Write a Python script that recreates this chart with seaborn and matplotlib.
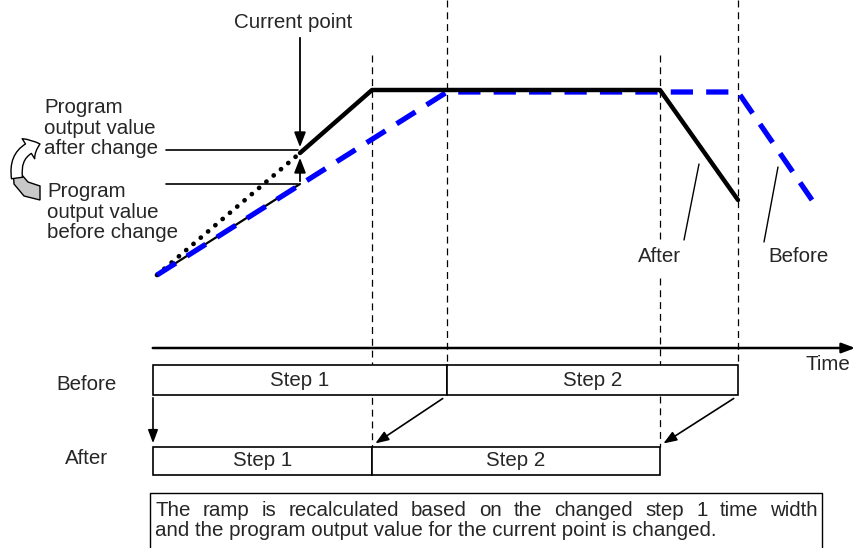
import matplotlib
matplotlib.use("Agg")
import matplotlib.pyplot as plt
import seaborn as sns
import pandas as pd
from matplotlib.patches import Rectangle, FancyArrowPatch, Polygon

sns.set_style("white")
plt.rcParams['font.family'] = ['Liberation Sans', 'DejaVu Sans']
plt.rcParams['lines.scale_dashes'] = False

# profile points (pixel-like units of the diagram)
after_x = [300, 372, 660, 738]
after_y = [153, 90, 90, 200]
before_x = [157, 447, 738, 812]
before_y = [275, 92, 92, 200]
old_ramp_x = [157, 300]
old_ramp_y = [275, 184]
new_ramp_x = [157, 300]
new_ramp_y = [275, 153]

# time boundaries of the steps
before_edges = [153, 447, 738]
after_edges = [153, 372, 660]
step_labels = ["Step 1", "Step 2"]
note_lines = ["The ramp is recalculated based on the changed step 1 time width",
              "and the program output value for the current point is changed."]

fig = plt.figure(figsize=(8.58, 5.48), dpi=100)
ax = fig.add_axes([0, 0, 1, 1])
ax.set_xlim(0, 858)
ax.set_ylim(548, 0)
ax.axis('off')

fs = 14.8

# vertical guide lines
guides = [(372, 55, 447), (447, 0, 365), (660, 55, 240), (660, 278, 447), (738, 0, 365)]
for gx, y0, y1 in guides:
    ax.plot([gx, gx], [y0, y1], color='black', lw=0.9, ls=(0, (5, 3.5)), zorder=1)

line_df = pd.DataFrame({'x': before_x, 'y': before_y})
sns.lineplot(data=line_df, x='x', y='y', sort=False, ax=ax, color='#0000ff',
             lw=3.8, zorder=3, linestyle=(0, (16, 9.5)), estimator=None)
sns.lineplot(x=old_ramp_x, y=old_ramp_y, sort=False, ax=ax, color='black', lw=1.6, zorder=2,
             estimator=None)
sns.lineplot(x=new_ramp_x, y=new_ramp_y, sort=False, ax=ax, color='black', lw=3.4, zorder=2,
             linestyle=(0, (0.1, 6.8)), dash_capstyle='round', estimator=None)
sns.lineplot(x=after_x, y=after_y, sort=False, ax=ax, color='black', lw=3.2, zorder=4,
             estimator=None)

# current point arrows
ax.annotate('', xy=(300, 150), xytext=(300, 35),
            arrowprops=dict(arrowstyle='-|>,head_width=0.35,head_length=0.9', color='black', lw=1.3))
ax.annotate('', xy=(300, 155), xytext=(300, 184),
            arrowprops=dict(arrowstyle='-|>,head_width=0.35,head_length=0.9', color='black', lw=1.3))
ax.text(293, 22, "Current point", ha='center', va='center', fontsize=fs)

# value labels
ax.text(44, 128, "Program\noutput value\nafter change", ha='left', va='center',
        fontsize=fs, linespacing=1.12)
ax.plot([166, 298], [150, 150], color='black', lw=1.2)
ax.text(47, 212, "Program\noutput value\nbefore change", ha='left', va='center',
        fontsize=fs, linespacing=1.12)
ax.plot([166, 298], [184, 184], color='black', lw=1.2)

# curved arrow icon
ax.add_patch(Polygon([(13, 168), (14, 184), (24, 196), (40, 200), (40, 186), (28, 182), (21, 174)],
                     closed=True, facecolor='#c8c8c8', edgecolor='black', lw=1.0, zorder=2))
ax.add_patch(FancyArrowPatch((17, 178), (40, 144), connectionstyle='arc3,rad=-0.45',
                             arrowstyle='simple,head_width=17,head_length=9,tail_width=8',
                             facecolor='white', edgecolor='black', lw=1.0, zorder=3,
                             shrinkA=0, shrinkB=0))

# after / before leaders
ax.text(660, 256, "After", ha='center', va='center', fontsize=fs)
ax.plot([699, 684], [164, 240], color='black', lw=1.0)
ax.text(798, 256, "Before", ha='center', va='center', fontsize=fs)
ax.plot([778, 764], [167, 242], color='black', lw=1.0)

# time axis
ax.annotate('', xy=(858, 348), xytext=(150, 348),
            arrowprops=dict(arrowstyle='-|>,head_width=0.3,head_length=0.8', color='black', lw=1.8))
ax.text(828, 365, "Time", ha='center', va='center', fontsize=fs)

# step bars
ax.text(87, 384, "Before", ha='center', va='center', fontsize=fs)
ax.text(87, 458, "After", ha='center', va='center', fontsize=fs)
for i, lab in enumerate(step_labels):
    x0, x1 = before_edges[i], before_edges[i + 1]
    ax.add_patch(Rectangle((x0, 365), x1 - x0, 30, facecolor='white', edgecolor='black', lw=1.2, zorder=2))
    ax.text((x0 + x1) / 2, 380, lab, ha='center', va='center', fontsize=fs, zorder=3)
    x0, x1 = after_edges[i], after_edges[i + 1]
    ax.add_patch(Rectangle((x0, 447), x1 - x0, 28, facecolor='white', edgecolor='black', lw=1.2, zorder=2))
    ax.text((x0 + x1) / 2, 461, lab, ha='center', va='center', fontsize=fs, zorder=3)

# shift arrows
arrow_kw = dict(arrowstyle='-|>,head_width=0.3,head_length=0.8', color='black', lw=1.2)
ax.annotate('', xy=(153, 446), xytext=(153, 395), arrowprops=arrow_kw)
for i in (1, 2):
    ax.annotate('', xy=(after_edges[i] + 1, 445), xytext=(before_edges[i] - 2, 397), arrowprops=arrow_kw)

# note box
ax.plot([150, 150, 822, 822], [548, 493, 493, 548], color='black', lw=1.0)
# first line is justified between the box edges
renderer = fig.canvas.get_renderer()
words = note_lines[0].split()
widths = []
for w in words:
    t = ax.text(0, 0, w, fontsize=fs)
    widths.append(t.get_window_extent(renderer).width)
    t.remove()
gap = (818 - 155 - sum(widths)) / (len(words) - 1)
xpos = 155
for w, wd in zip(words, widths):
    ax.text(xpos, 510, w, ha='left', va='center', fontsize=fs)
    xpos += wd + gap
ax.text(155, 531, note_lines[1], ha='left', va='center', fontsize=fs)

plt.savefig('out.png', dpi=100)
